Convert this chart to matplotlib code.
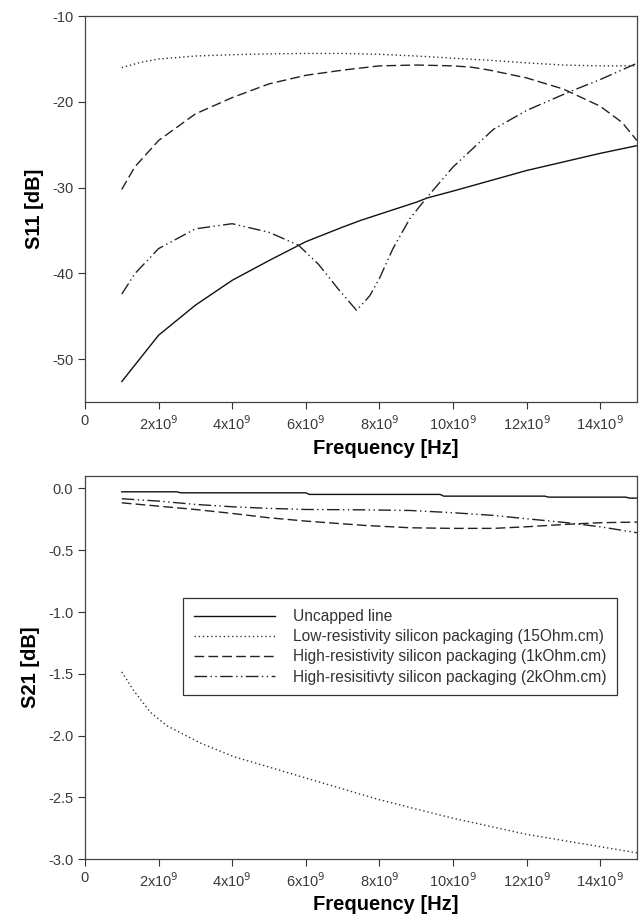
import numpy as np
import matplotlib
matplotlib.use("Agg")
import matplotlib.pyplot as plt
from matplotlib.ticker import FixedLocator, FuncFormatter

plt.rcParams["font.family"] = ["Liberation Sans", "DejaVu Sans"]
plt.rcParams["axes.unicode_minus"] = False

# S11 data (frequency in GHz)
f_uncapped_s11 = [1, 2, 3, 4, 5, 6, 7, 7.5, 8, 9, 9.3, 10, 11, 12, 13, 14, 15]
s11_uncapped = [-52.6, -47.2, -43.7, -40.8, -38.5, -36.3, -34.6, -33.8, -33.1, -31.7,
                -31.2, -30.4, -29.2, -28.0, -27.0, -26.0, -25.1]

f_low_s11 = [1, 1.5, 2, 3, 4, 5, 6, 7, 8, 9, 10, 11, 12, 13, 14, 15]
s11_low = [-16.0, -15.4, -15.0, -14.65, -14.5, -14.4, -14.35, -14.35, -14.45, -14.65,
           -14.9, -15.15, -15.45, -15.7, -15.8, -15.8]

f_1k_s11 = [1, 1.35, 2, 3, 4, 5, 6, 7, 8, 9, 10, 10.5, 11, 12, 13, 14, 14.6, 15]
s11_1k = [-30.2, -27.6, -24.5, -21.4, -19.5, -17.9, -16.9, -16.3, -15.8, -15.7,
          -15.8, -15.95, -16.3, -17.2, -18.5, -20.5, -22.4, -24.5]

f_2k_s11 = [1, 1.36, 2, 3, 4, 5, 5.8, 6.34, 6.88, 7.38, 7.74, 8, 8.37, 8.83, 9.28,
            10, 11.1, 12, 13.18, 14, 15]
s11_2k = [-42.4, -40.0, -37.1, -34.8, -34.2, -35.2, -36.7, -38.9, -41.8, -44.3,
          -42.6, -40.6, -37.1, -33.6, -31.2, -27.6, -23.2, -21.0, -18.8, -17.4, -15.5]

# S21 data
f_uncapped_s21 = [1, 2.5, 2.6, 6.0, 6.1, 9.65, 9.75, 12.5, 12.6, 14.7, 14.8, 15]
s21_uncapped = [-0.027, -0.027, -0.035, -0.035, -0.048, -0.048, -0.062, -0.062,
                -0.070, -0.070, -0.078, -0.078]

f_low_s21 = [1, 1.31, 1.77, 2.22, 3.13, 4.03, 4.94, 5.84, 6.75, 8, 10, 12, 14, 15]
s21_low = [-1.485, -1.63, -1.81, -1.92, -2.06, -2.17, -2.25, -2.33, -2.41,
           -2.52, -2.67, -2.80, -2.90, -2.95]

f_1k_s21 = [1, 2, 3, 4, 5, 6, 7.6, 8.83, 10, 11.1, 12, 13.1, 14, 15]
s21_1k = [-0.116, -0.143, -0.17, -0.202, -0.237, -0.264, -0.299, -0.318, -0.323,
          -0.323, -0.31, -0.29, -0.277, -0.272]

f_2k_s21 = [1, 2, 3, 4, 5, 6, 7.6, 8.83, 10, 11.1, 12, 13.1, 14, 15]
s21_2k = [-0.083, -0.102, -0.129, -0.148, -0.161, -0.17, -0.173, -0.178, -0.196,
          -0.218, -0.245, -0.277, -0.31, -0.358]

labels = [
    "Uncapped line",
    "Low-resistivity silicon packaging (15Ohm.cm)",
    "High-resistivity silicon packaging (1kOhm.cm)",
    "High-resisitivty silicon packaging (2kOhm.cm)",
]

x_ticks = [0, 2, 4, 6, 8, 10, 12, 14]

styles = [
    dict(color="#111111", lw=1.0, linestyle="-"),
    dict(color="#333333", lw=1.0, linestyle=(0, (1, 2))),
    dict(color="#222222", lw=1.0, linestyle=(0, (7, 3))),
    dict(color="#222222", lw=1.0, linestyle=(0, (9, 2.5, 1, 2.5, 1, 2.5))),
]


def fmt_x(v, pos):
    if v == 0:
        return "0"
    return r"%dx10$^{9}$" % int(round(v))


def style_axes(ax):
    ax.set_xlim(0, 15)
    ax.xaxis.set_major_locator(FixedLocator(x_ticks))
    ax.xaxis.set_major_formatter(FuncFormatter(fmt_x))
    ax.tick_params(direction="out", length=5, width=0.8, labelsize=10.5,
                   labelcolor="#3a3a3a", color="#333333", top=False, right=False)
    for s in ax.spines.values():
        s.set_color("#444444")
        s.set_linewidth(0.9)
    ax.set_xlabel("Frequency [Hz]", fontsize=14.5, fontweight="bold", labelpad=3)
    ax.xaxis.set_label_coords(0.545, -0.095)


fig = plt.figure(figsize=(6.41, 9.16), dpi=100)
ax1 = fig.add_axes([0.1326, 0.561, 0.861, 0.4214])
ax2 = fig.add_axes([0.1326, 0.0622, 0.861, 0.418])

ax1.plot(f_uncapped_s11, s11_uncapped, **styles[0])
ax1.plot(f_low_s11, s11_low, **styles[1])
ax1.plot(f_1k_s11, s11_1k, **styles[2])
ax1.plot(f_2k_s11, s11_2k, **styles[3])
ax1.set_ylim(-55, -10)
ax1.set_yticks([-50, -40, -30, -20, -10])
ax1.set_ylabel("S11 [dB]", fontsize=14.5, fontweight="bold", labelpad=6)
style_axes(ax1)

s21_x = [f_uncapped_s21, f_low_s21, f_1k_s21, f_2k_s21]
s21_y = [s21_uncapped, s21_low, s21_1k, s21_2k]
for x, y, st, lab in zip(s21_x, s21_y, styles, labels):
    ax2.plot(x, y, label=lab, **st)
ax2.set_ylim(-3.0, 0.1)
ax2.set_yticks([-3.0, -2.5, -2.0, -1.5, -1.0, -0.5, 0.0])
ax2.yaxis.set_major_formatter(FuncFormatter(lambda v, p: "%.1f" % v))
ax2.set_ylabel("S21 [dB]", fontsize=14.5, fontweight="bold", labelpad=6)
style_axes(ax2)

leg = ax2.legend(loc="upper left", bbox_to_anchor=(0.178, 0.681), fontsize=11.2,
                 handlelength=5.2, handletextpad=1.15, borderpad=0.7,
                 labelspacing=0.33, fancybox=False, framealpha=1,
                 edgecolor="#333333", borderaxespad=0)
leg.get_frame().set_linewidth(0.9)
for t in leg.get_texts():
    t.set_color("#333333")

fig.savefig("out.png", dpi=100)
